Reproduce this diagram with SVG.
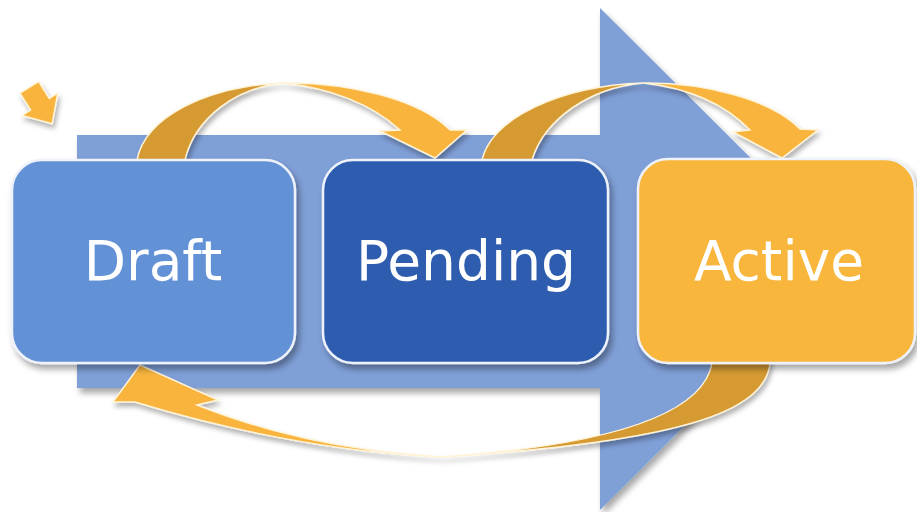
<svg xmlns="http://www.w3.org/2000/svg" width="917" height="512" viewBox="0 0 917 512">
<defs>
<filter id="sh" x="-20%" y="-20%" width="140%" height="140%">
<feDropShadow dx="3" dy="5" stdDeviation="3" flood-color="#000" flood-opacity="0.35"/>
</filter>
<filter id="shs" x="-20%" y="-20%" width="140%" height="140%">
<feDropShadow dx="2" dy="4" stdDeviation="2.5" flood-color="#000" flood-opacity="0.3"/>
</filter>
</defs>
<style>
.bg{fill:#7f9fd7;}
.node{stroke:#eef2fa;stroke-width:2.5;filter:url(#sh);}
.lbl{font-family:"DejaVu Sans",Verdana,sans-serif;font-size:55px;fill:#ffffff;text-anchor:middle;}
.back{fill:#d69a30;stroke:#fff3d8;stroke-width:1.5;}
.front{fill:#f8b43c;stroke:#fff3d8;stroke-width:1.5;}
.arr{filter:url(#shs);}
</style>
<rect width="917" height="512" fill="#ffffff"/>
<g id="background-arrow">
<polygon class="bg" points="77,135 600,135 600,8 852,259 600,510 600,388 77,388" filter="url(#sh)"/>
</g>
<g id="connectors">
<g id="draft-to-pending" class="arr">
<path class="back" d="M137,172 L137,160 C145,118 205,86 283,83 C235,88 195,118 185,160 L185,172 Z"/>
<path class="front" d="M283,83 C350,82 420,100 450,130 L467,130 L435,158 L380,131 L400,130 C372,104 330,88 283,83 Z"/>
</g>
<g id="pending-to-active" class="arr">
<path class="back" d="M482,172 L482,160 C492,118 560,86 643,83 C590,88 545,118 532,160 L532,172 Z"/>
<path class="front" d="M643,83 C705,82 772,100 800,129 L818,130 L782,158 L733,132 L750,130 C725,104 688,88 643,83 Z"/>
</g>
<g id="active-to-draft" class="arr">
<path class="back" d="M770,352 L770,363 C765,412 680,442 440,457 C640,443 705,405 712,363 L712,352 Z"/>
<path class="front" d="M440,457 C330,452 220,428 135,402 L113,402 L140,365 L218,400 L197,405 C265,432 340,450 440,457 Z"/>
</g>
<g id="start-arrow" class="arr">
<polygon class="front" transform="translate(41,106) rotate(-32)" points="-11,-22 11,-22 11,-2 21,-2 0,21 -21,-2 -11,-2"/>
</g>
</g>
<g id="node-draft">
<rect class="node" x="12" y="160" width="283" height="203" rx="30" fill="#6491d5"/>
<text class="lbl" x="153" y="280">Draft</text>
</g>
<g id="node-pending">
<rect class="node" x="323" y="160" width="285" height="203" rx="30" fill="#2f5cae"/>
<text class="lbl" x="466" y="280">Pending</text>
</g>
<g id="node-active">
<rect class="node" x="638" y="159" width="277" height="204" rx="30" fill="#f8b63d"/>
<text class="lbl" x="779" y="280">Active</text>
</g>
</svg>
